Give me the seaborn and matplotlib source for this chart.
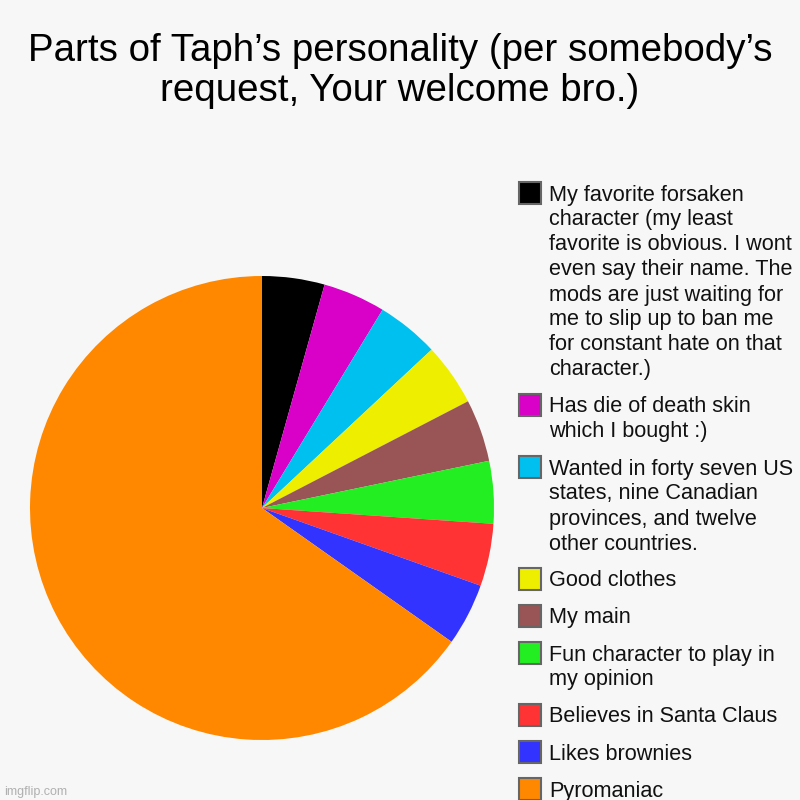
import pandas as pd
import matplotlib
matplotlib.use("Agg")
import matplotlib.pyplot as plt
from matplotlib.patches import Rectangle
import seaborn as sns

# --- data ---
labels = [
    "My favorite forsaken\ncharacter (my least\nfavorite is obvious. I wont\neven say their name. The\nmods are just waiting for\nme to slip up to ban me\nfor constant hate on that\ncharacter.)",
    "Has die of death skin\nwhich I bought :)",
    "Wanted in forty seven US\nstates, nine Canadian\nprovinces, and twelve\nother countries.",
    "Good clothes",
    "My main",
    "Fun character to play in\nmy opinion",
    "Believes in Santa Claus",
    "Likes brownies",
    "Pyromaniac",
]
values = [1, 1, 1, 1, 1, 1, 1, 1, 15]
colors = ["#000000", "#d900c8", "#00c0f0", "#eeee00", "#995555",
          "#22ee22", "#ff3333", "#3333ff", "#ff8800"]
title_lines = ["Parts of Taph\u2019s personality (per somebody\u2019s",
               "request, Your welcome bro.)"]

df = pd.DataFrame({"label": labels, "value": values, "color": colors})

sns.set_theme(style="white", rc={"figure.facecolor": "#f7f7f7",
                                 "axes.facecolor": "#f7f7f7"})
plt.rcParams["font.family"] = ["Liberation Sans", "DejaVu Sans"]

W = H = 800
fig = plt.figure(figsize=(8, 8), dpi=100)


def fx(px):
    return px / W


def fy(py):
    return 1 - py / H


# pie: centre (262, 508), radius 232 px
cx, cy, r = 262, 508, 232
ax = fig.add_axes([fx(cx - r), fy(cy + r), 2 * r / W, 2 * r / H])
wedges, _ = ax.pie(df["value"], colors=df["color"], startangle=90,
                   counterclock=False, radius=1,
                   wedgeprops={"linewidth": 0, "antialiased": True})
ax.set_xlim(-1, 1)
ax.set_ylim(-1, 1)
ax.set_aspect("equal")
ax.axis("off")

# title, one line at a time
for i, line in enumerate(title_lines):
    fig.text(0.5, fy(61 + 40 * i), line, ha="center", va="baseline",
             fontsize=27.7, color="black")

# legend drawn by hand so squares sit at the first line of each label
line_h = 25
gap = 12
sq = 22
y = 193
for wedge, lab in zip(wedges, df["label"]):
    fig.patches.append(Rectangle((fx(519), fy(y + sq / 2)), sq / W, sq / H,
                                 transform=fig.transFigure,
                                 facecolor=wedge.get_facecolor(),
                                 edgecolor="#666666", linewidth=1.5))
    rows = lab.split("\n")
    for j, row in enumerate(rows):
        fig.text(fx(549), fy(y + 7.5 + j * line_h), row, ha="left",
                 va="baseline", fontsize=15.6, color="#111111")
    y += len(rows) * line_h + gap

fig.text(fx(4), fy(795), "imgflip.com", ha="left", va="baseline",
         fontsize=9, color="#b0b0b0")

fig.savefig("out.png", dpi=100, facecolor=fig.get_facecolor())
